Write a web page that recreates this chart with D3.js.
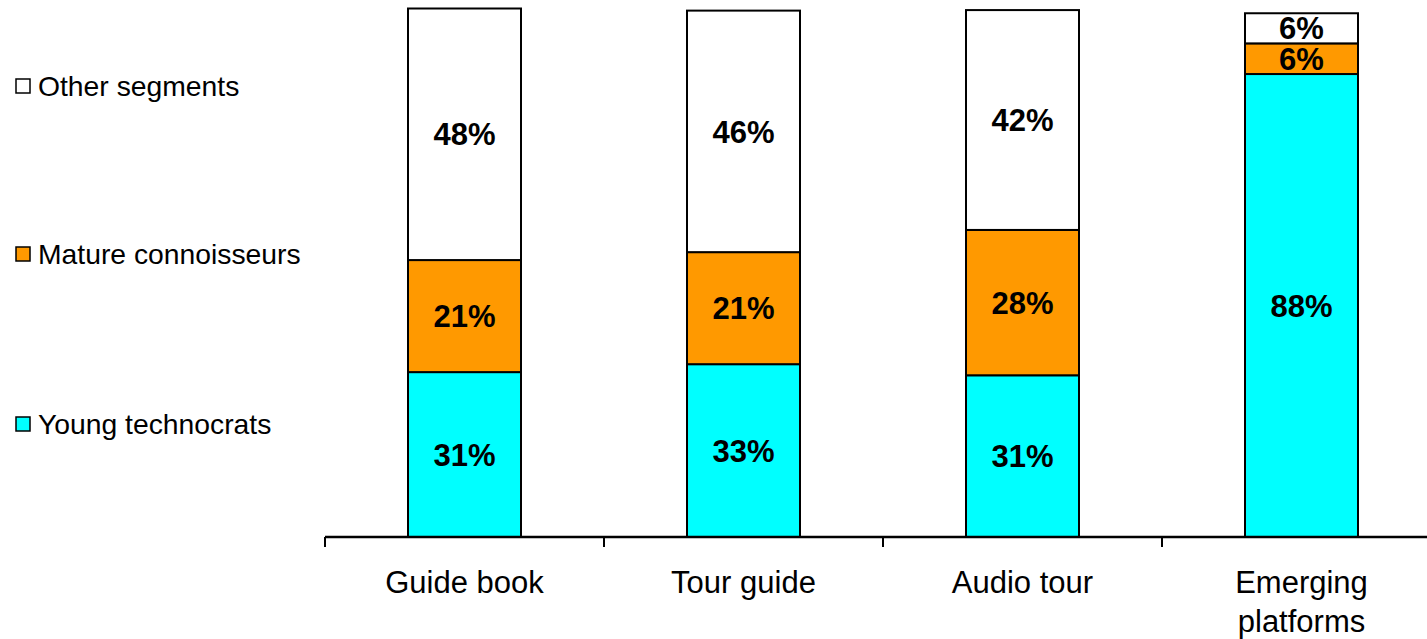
<!DOCTYPE html>
<html>
<head>
<meta charset="utf-8">
<script src="https://cdn.jsdelivr.net/npm/d3@7"></script>
<style>
  html, body { margin: 0; padding: 0; background: #fff; }
  svg { display: block; font-family: "Liberation Sans", Arial, sans-serif; }
</style>
</head>
<body>
<svg id="chart" width="1427" height="639"></svg>
<script>
// Channel shares by audience segment (percent of users)
const categories = ["Guide book", "Tour guide", "Audio tour", "Emerging platforms"];
const segments = ["Young technocrats", "Mature connoisseurs", "Other segments"];
const youngTechnocrats   = [31.2, 32.7, 30.6, 87.6];
const matureConnoisseurs = [21.2, 21.2, 27.5, 5.8];
const otherSegments      = [47.6, 45.7, 41.6, 5.7];
const segmentColors = ["#00FFFF", "#FF9900", "#FFFFFF"];

const rows = categories.map((c, i) => ({
  category: c,
  "Young technocrats": youngTechnocrats[i],
  "Mature connoisseurs": matureConnoisseurs[i],
  "Other segments": otherSegments[i]
}));

const svg = d3.select("#chart");
const baseY = 537;

const x = d3.scaleBand()
  .domain(categories)
  .range([325, 1441])
  .paddingInner(0.595)
  .paddingOuter(0.2975);

const y = d3.scaleLinear().domain([0, 100]).range([baseY, 8.5]);

const color = d3.scaleOrdinal().domain(segments).range(segmentColors);

const stacked = d3.stack().keys(segments)(rows);

// Stacked bars
const layers = svg.append("g").selectAll("g")
  .data(stacked)
  .join("g")
  .attr("fill", d => color(d.key));

layers.selectAll("rect")
  .data(d => d)
  .join("rect")
  .attr("x", d => x(d.data.category))
  .attr("width", x.bandwidth())
  .attr("y", d => y(d[1]))
  .attr("height", d => y(d[0]) - y(d[1]))
  .attr("stroke", "#000")
  .attr("stroke-width", 2);

// Value labels inside each segment
layers.selectAll("text")
  .data(d => d)
  .join("text")
  .attr("x", d => x(d.data.category) + x.bandwidth() / 2)
  .attr("y", d => (y(d[0]) + y(d[1])) / 2)
  .attr("dy", "0.36em")
  .attr("text-anchor", "middle")
  .attr("fill", "#000")
  .attr("font-weight", "bold")
  .attr("font-size", 31)
  .text(d => Math.round(d[1] - d[0]) + "%");

// Category axis: baseline with ticks between categories
const axis = svg.append("g");
axis.append("line")
  .attr("x1", x.range()[0]).attr("x2", 1427)
  .attr("y1", baseY).attr("y2", baseY)
  .attr("stroke", "#000").attr("stroke-width", 2.5);

const boundaries = d3.range(categories.length + 1).map(i => x.range()[0] + i * x.step());
axis.selectAll(".tick-mark")
  .data(boundaries)
  .join("line")
  .attr("class", "tick-mark")
  .attr("x1", d => d).attr("x2", d => d)
  .attr("y1", baseY).attr("y2", baseY + 10)
  .attr("stroke", "#000").attr("stroke-width", 2);

const catLabels = axis.selectAll(".cat")
  .data(categories)
  .join("text")
  .attr("class", "cat")
  .attr("x", d => x(d) + x.bandwidth() / 2)
  .attr("y", 593)
  .attr("text-anchor", "middle")
  .attr("font-size", 31)
  .attr("fill", "#000");

catLabels.each(function(d) {
  const words = d.split(" ");
  const t = d3.select(this);
  if (d === "Emerging platforms") {
    words.forEach((w, i) => {
      t.append("tspan")
        .attr("x", x(d) + x.bandwidth() / 2)
        .attr("dy", i === 0 ? 0 : 39)
        .text(w);
    });
  } else {
    t.text(d);
  }
});

// Legend, top entry is the top of the stack
const legendY = { "Other segments": 86, "Mature connoisseurs": 254, "Young technocrats": 424 };
const legend = svg.append("g").selectAll("g")
  .data(segments)
  .join("g")
  .attr("transform", d => `translate(0,${legendY[d]})`);

legend.append("rect")
  .attr("x", 16).attr("y", -7)
  .attr("width", 14).attr("height", 14)
  .attr("fill", d => color(d))
  .attr("stroke", "#000")
  .attr("stroke-width", 1.5);

legend.append("text")
  .attr("x", 38)
  .attr("y", 0)
  .attr("dy", "0.35em")
  .attr("font-size", 28.3)
  .attr("fill", "#000")
  .text(d => d);
</script>
</body>
</html>
